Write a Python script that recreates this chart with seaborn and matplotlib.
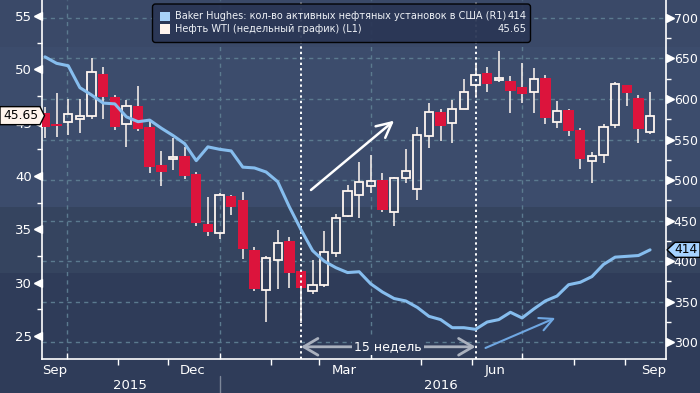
import matplotlib
matplotlib.use("Agg")
import matplotlib.pyplot as plt
import matplotlib.dates as mdates
import matplotlib.ticker as mticker
from matplotlib.patches import Polygon, FancyBboxPatch, Rectangle
from matplotlib.transforms import blended_transform_factory, IdentityTransform
import numpy as np
import pandas as pd
import seaborn as sns

# weekly WTI candles (L1) and Baker Hughes US oil rig count (R1)
week_start = "2015-09-18"
wti_open = [45.87, 44.87, 45.03, 45.37, 45.65, 49.56, 47.37, 44.84, 46.56, 44.56,
            41.00, 41.56, 41.87, 40.18, 35.50, 34.63, 38.12, 37.75, 33.06, 29.28,
            32.09, 33.90, 31.09, 29.19, 29.81, 32.81, 36.27, 38.24, 39.09, 39.62,
            36.65, 39.78, 38.80, 43.77, 46.00, 45.00, 46.30, 48.50, 49.62, 48.96,
            48.87, 48.31, 47.84, 49.18, 45.08, 46.18, 44.31, 41.43, 41.99, 44.80,
            48.50, 47.31, 44.15]
wti_high = [46.43, 47.75, 47.18, 47.21, 51.03, 50.18, 47.59, 47.12, 48.43, 45.24,
            42.34, 43.53, 42.68, 40.40, 38.06, 38.43, 38.21, 38.52, 33.37, 32.50,
            34.93, 34.31, 31.10, 32.12, 34.84, 36.43, 39.15, 41.34, 41.96, 40.25,
            39.93, 42.50, 44.56, 46.87, 46.25, 47.12, 49.06, 50.40, 50.18, 51.71,
            49.37, 50.62, 50.09, 49.46, 47.02, 46.27, 44.49, 42.22, 44.84, 48.78,
            48.50, 47.59, 47.84]
wti_low = [43.53, 43.62, 43.84, 44.05, 45.34, 45.34, 44.31, 42.74, 44.24, 40.30,
           39.06, 40.56, 39.69, 35.31, 34.37, 34.09, 36.34, 32.22, 29.25, 26.34,
           29.43, 29.53, 26.25, 28.91, 29.62, 32.43, 36.18, 36.09, 38.43, 36.65,
           35.34, 39.37, 37.75, 42.65, 43.30, 43.12, 46.27, 47.49, 47.90, 48.80,
           45.93, 46.87, 45.93, 44.87, 44.52, 43.74, 40.65, 39.37, 41.24, 44.52,
           46.56, 43.12, 43.93]
wti_close = [44.62, 44.71, 45.78, 45.59, 49.71, 47.37, 44.62, 46.58, 44.37, 40.81,
             40.40, 41.75, 40.03, 35.62, 34.78, 38.19, 37.12, 33.18, 29.43, 32.28,
             33.69, 30.93, 29.53, 29.75, 32.84, 36.03, 38.56, 39.46, 39.50, 36.81,
             39.78, 40.46, 43.81, 45.97, 44.71, 46.25, 47.84, 49.43, 48.65, 49.15,
             47.99, 47.71, 49.06, 45.46, 46.09, 44.24, 41.59, 41.84, 44.56, 48.62,
             47.75, 44.40, 45.65]
rig_count = [652, 644, 641, 614, 605, 595, 594, 578, 572, 574,
             564, 555, 545, 524, 541, 538, 536, 516, 515, 510,
             498, 467, 439, 413, 400, 392, 386, 387, 372, 362,
             354, 351, 343, 332, 328, 318, 318, 316, 325, 328,
             337, 330, 341, 351, 357, 371, 374, 381, 396, 405,
             406, 407, 414]

rig_label = "Baker Hughes: кол-во активных нефтяных установок в США (R1)"
wti_label = "Нефть WTI (недельный график) (L1)"
weeks_text = "15 недель"
month_labels = ["Sep", "Dec", "Mar", "Jun", "Sep"]
month_label_dates = ["2015-09-24", "2015-12-16", "2016-03-16", "2016-06-15", "2016-09-18"]
year_labels = ["2015", "2016"]
year_label_dates = ["2015-11-08", "2016-05-13"]
left_ticks = [25, 30, 35, 40, 45, 50, 55]
right_ticks = [300, 350, 400, 450, 500, 550, 600, 650, 700]

dates = pd.date_range(week_start, periods=len(wti_close), freq="7D")
df = pd.DataFrame({"open": wti_open, "high": wti_high, "low": wti_low,
                   "close": wti_close, "rigs": rig_count}, index=dates)

RED = "#dc143c"
WHITE = "#fff6f0"
BLUE = "#86bdee"
GRID = "#5b7a8f"

sns.set_theme(style="dark")
plt.rcParams["font.family"] = ["DejaVu Sans"]

W, H = 700, 393
fig = plt.figure(figsize=(7, 3.93), dpi=100)
num = mdates.date2num

# banded background
bands = [(47, "#3a4968"), (160, "#3c4c6c"), (66, "#35445f"), (120, "#2f3c59")]
rows = []
for n, col in bands:
    rows += [matplotlib.colors.to_rgb(col)] * n
bg = fig.add_axes([0, 0, 1, 1], zorder=-10)
bg.imshow(np.array(rows)[:, None, :], aspect="auto", extent=[0, 1, 0, 1])
bg.axis("off")

pos = [42 / W, 34 / H, 624 / W, 359 / H]
ax = fig.add_axes(pos)
axg = ax.twinx()
ax2 = ax.twinx()
axg.set_zorder(1)
ax.set_zorder(2)
ax2.set_zorder(3)
for a in (ax, axg, ax2):
    a.patch.set_visible(False)
    for s in a.spines.values():
        s.set_visible(False)

x0 = pd.Timestamp("2015-09-16 05:00")
x1 = pd.Timestamp("2016-09-25 14:00")
ax.set_xlim(num(x0), num(x1))
ax.set_ylim(22.84, 56.49)
axg.set_ylim(279.4, 722.1)
ax2.set_ylim(279.4, 722.1)

# grid
axg.set_yticks(right_ticks)
axg.tick_params(axis="y", right=False, labelright=False, left=False)
axg.grid(axis="y", color=GRID, ls=(0, (3, 3)), lw=1)
ax.xaxis.set_major_locator(mdates.MonthLocator(bymonth=[1, 4, 7, 10]))
ax.xaxis.set_minor_locator(mdates.MonthLocator())
ax.xaxis.set_major_formatter(mticker.NullFormatter())
ax.xaxis.set_minor_formatter(mticker.NullFormatter())
ax.grid(axis="x", which="major", color=GRID, ls=(0, (3, 3)), lw=1)
ax.grid(axis="y", visible=False)
ax.set_axisbelow(True)

# candles
xs = num(df.index.to_pydatetime())
up = (df["close"] >= df["open"]).to_numpy()
body_lo = df[["open", "close"]].min(axis=1).to_numpy()
body_hi = df[["open", "close"]].max(axis=1).to_numpy()
ax.vlines(xs, df["low"], body_lo, color=WHITE, lw=1.1, zorder=2)
ax.vlines(xs, body_hi, df["high"], color=WHITE, lw=1.1, zorder=2)
o = df["open"].to_numpy()
c = df["close"].to_numpy()
ax.bar(xs[~up], (o - c)[~up], bottom=c[~up], width=6.3, color=RED, lw=0, zorder=3)
ax.bar(xs[up], np.clip((c - o)[up], 0.12, None), bottom=o[up], width=5.0,
       facecolor="none", edgecolor=WHITE, lw=1.3, zorder=3)

# rig count line
sns.lineplot(x=xs, y=df["rigs"].to_numpy(), ax=ax2, color=BLUE, lw=2.2)
ax2.set_xlabel("")
ax2.set_ylabel("")
ax.set_xlabel("")
ax.set_ylabel("")
ax.set_xlim(num(x0), num(x1))

# axes lines and ticks
for a, side in ((ax, "left"), (ax, "bottom"), (ax2, "right")):
    a.spines[side].set_visible(True)
    a.spines[side].set_color("white")
    a.spines[side].set_linewidth(1.2)
ax.tick_params(axis="x", which="major", direction="in", length=4, width=1,
               color="white", bottom=True)
ax.tick_params(axis="x", which="minor", direction="out", length=4, width=1,
               color="white", bottom=True)
ax.set_yticks(left_ticks)
ax.set_yticks([27.5, 32.5, 37.5, 42.5, 47.5, 52.5], minor=True)
ax.tick_params(axis="y", which="major", length=0, pad=7, labelsize=9.5,
               labelcolor="white", left=True)
ax.tick_params(axis="y", which="minor", direction="out", length=3.5, width=1,
               color="white", left=True)
ax2.set_yticks(right_ticks)
ax2.set_yticks([325, 375, 425, 475, 525, 575, 625, 675], minor=True)
ax2.tick_params(axis="y", which="major", length=0, pad=5.5, labelsize=9,
                labelcolor="white", right=True)
ax2.tick_params(axis="y", which="minor", direction="out", length=3.5, width=1,
                color="white", right=True)
ax2.xaxis.set_visible(False)

tl = blended_transform_factory(ax.transAxes, ax.transData)
ax.plot([-0.0058] * len(left_ticks), left_ticks, marker="<", ms=5.5, ls="none",
        color="white", transform=tl, clip_on=False)
tr = blended_transform_factory(ax2.transAxes, ax2.transData)
ax2.plot([1.0058] * len(right_ticks), right_ticks, marker=">", ms=5.5, ls="none",
         color="white", transform=tr, clip_on=False)

# month / year labels
tx = blended_transform_factory(ax.transData, ax.transAxes)
for lab, d in zip(month_labels, month_label_dates):
    ax.text(num(pd.Timestamp(d)), -0.031, lab, transform=tx, ha="center", va="center",
            color="white", fontsize=9.5, clip_on=False)
for lab, d in zip(year_labels, year_label_dates):
    ax.text(num(pd.Timestamp(d)), -0.075, lab, transform=tx, ha="center", va="center",
            color="white", fontsize=9.5, clip_on=False)
jan = num(pd.Timestamp("2016-01-01"))
ax.plot([jan, jan], [-0.047, -0.1], transform=tx, color="#7d8799", lw=1, clip_on=False)

# 15 weeks markers
d_a, d_b = xs[22], xs[37]
for d in (d_a, d_b):
    ax.axvline(d, color="white", ls=(0, (1.2, 1.6)), lw=1.4, zorder=4)
ax.annotate("", xy=(d_a, 0.034), xytext=(d_b, 0.034), xycoords=tx, textcoords=tx,
            arrowprops=dict(arrowstyle="<->,head_length=0.85,head_width=0.5",
                            color="#aab1be", lw=2, shrinkA=0, shrinkB=0), zorder=5)
ax.text((d_a + d_b) / 2, 0.034, weeks_text, transform=tx, ha="center",
        va="center", color="white", fontsize=9, zorder=6,
        bbox=dict(fc="#2f3c59", ec="none", pad=1.5))

# trend arrows
ax.annotate("", xy=(num(pd.Timestamp("2016-04-15")), 45.18),
            xytext=(num(pd.Timestamp("2016-02-25")), 38.68),
            arrowprops=dict(arrowstyle="->,head_length=0.9,head_width=0.45",
                            color="white", lw=1.8, shrinkA=0, shrinkB=0), zorder=6)
ax2.annotate("", xy=(num(pd.Timestamp("2016-07-21")), 330),
             xytext=(num(pd.Timestamp("2016-06-09")), 293),
             arrowprops=dict(arrowstyle="->,head_length=0.8,head_width=0.4",
                             color="#6fa7e2", lw=1.5, shrinkA=0, shrinkB=0), zorder=6)

# last value tags
yl = ax.transData.transform((xs[-1], c[-1]))[1]
tag_l = Polygon([(0, yl - 9), (40, yl - 9), (44.5, yl), (40, yl + 9), (0, yl + 9)],
                closed=True, fc="#fff4ec", ec="black", lw=1,
                transform=IdentityTransform(), zorder=20)
fig.add_artist(tag_l)
fig.text(20.5 / W, yl / H, f"{c[-1]:.2f}", ha="center", va="center",
         color="black", fontsize=8.8, zorder=21)
yr = ax2.transData.transform((xs[-1], rig_count[-1]))[1]
tag_r = Polygon([(667, yr), (675, yr + 7.5), (700, yr + 7.5), (700, yr - 7.5), (675, yr - 7.5)],
                closed=True, fc="#a6d3ff", ec="black", lw=1,
                transform=IdentityTransform(), zorder=20)
fig.add_artist(tag_r)
fig.text(686 / W, yr / H, f"{rig_count[-1]}", ha="center", va="center",
         color="black", fontsize=8.8, zorder=21)

# legend box
leg = FancyBboxPatch((152.5, H - 42.5), 378, 38.5,
                     boxstyle="round,pad=0,rounding_size=3",
                     fc="#2b3756", ec="black", lw=1, alpha=0.95,
                     transform=IdentityTransform(), zorder=15)
fig.add_artist(leg)
fig.add_artist(Rectangle((160, H - 21), 9.5, 9.5, fc="#a7d2fa", ec="none",
                         transform=IdentityTransform(), zorder=16))
fig.add_artist(Rectangle((160, H - 33.5), 9.5, 9.5, fc="#fff4ee", ec="none",
                         transform=IdentityTransform(), zorder=16))
fig.text(175 / W, (H - 16.3) / H, rig_label, ha="left", va="center",
         color="#eef1f6", fontsize=7.05, zorder=17)
fig.text(175 / W, (H - 29.3) / H, wti_label, ha="left", va="center",
         color="#eef1f6", fontsize=7.05, zorder=17)
fig.text(527 / W, (H - 16.3) / H, f"{rig_count[-1]}", ha="right", va="center",
         color="#eef1f6", fontsize=7.3, zorder=17)
fig.text(527 / W, (H - 29.3) / H, f"{c[-1]:.2f}", ha="right", va="center",
         color="#eef1f6", fontsize=7.3, zorder=17)

fig.savefig("out.png", dpi=100)
